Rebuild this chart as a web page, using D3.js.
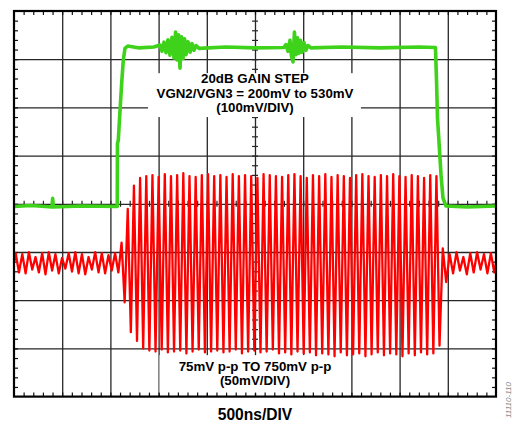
<!DOCTYPE html>
<html>
<head>
<meta charset="utf-8">
<script src="https://cdn.jsdelivr.net/npm/d3@7"></script>
<style>
  body { margin: 0; background: #fff; }
  svg { display: block; }
  text { font-family: "Liberation Sans", Arial, sans-serif; font-weight: bold; fill: #000; }
</style>
</head>
<body>
<div id="scope"></div>
<script>
// ---- data ----
// time axis in ns (500ns/DIV, 10 divisions), vertical in divisions (8)
const timeSpan = [0, 5000];
const divSpan = [-4, 4];

// green: VGN2/VGN3 gain control step, [ns, mV] (100mV/DIV)
const gainStep = [
  [0, 200], [180, 202], [394, 199], [401, 217], [409, 199], [700, 201], [1071, 200],
  [1073, 330], [1082, 338], [1100, 400], [1117, 456], [1134, 504], [1151, 528],
  [1180, 533], [1300, 529], [1450, 531],
  [1514, 535], [1535, 522], [1556, 541], [1577, 519], [1597, 546], [1618, 514],
  [1639, 551], [1660, 508], [1676, 562], [1691, 504], [1707, 556], [1722, 487],
  [1738, 552], [1753, 507], [1769, 548], [1784, 515], [1805, 542], [1826, 520],
  [1846, 538], [1867, 524], [1888, 534], [1919, 528],
  [2200, 531], [2500, 529], [2800, 530],
  [2821, 536], [2842, 522], [2863, 545], [2878, 512], [2894, 500], [2909, 562],
  [2925, 515], [2940, 550], [2956, 518], [2971, 545], [2987, 520], [3008, 540],
  [3028, 524], [3049, 534], [3080, 529],
  [3400, 531], [3800, 529], [4200, 531], [4372, 530], [4383, 462], [4393, 384],
  [4414, 317], [4430, 265], [4450, 218], [4481, 201], [4700, 199], [5000, 201]
];

// red: output signal, peak / trough of each cycle in mV (50mV/DIV)
const segmentBounds = [0, 1100, 4430, 5000]; // ns: before step, burst, after step
const preHi = [10, 9, 11, 6, 10, 11, 9, 5, 10, 11, 9, 6, 11, 10, 8, 10];
const preLo = [-10, -11, -7, -10, -12, -8, -11, -6, -9, -11, -12, -7, -10, -11, -8, -10];
const burstHi = [21, 56, 80, 88, 90, 91, 89, 92, 90, 91, 93, 90, 89, 91, 92, 90,
  91, 89, 92, 90, 91, 90, 88, 92, 91, 90, 89, 91, 92, 90, 88, 91,
  90, 92, 89, 91, 90, 88, 91, 92, 90, 89, 91, 90, 92, 90, 89, 91, 90, 88, 91, 90];
const burstLo = [-41, -72, -81, -89, -91, -92, -90, -93, -92, -91, -94, -92, -90, -93, -92, -91,
  -93, -92, -90, -94, -92, -91, -93, -92, -90, -94, -93, -95, -92, -94, -93, -96,
  -94, -95, -97, -93, -96, -95, -94, -97, -95, -93, -96, -94, -95, -97, -94, -96, -93, -95, -94, -86];
const postHi = [15, 9, 11, 6, 10, 11, 9, 10];
const postLo = [-20, -11, -8, -12, -10, -7, -11, -10];

// channel settings
const greenPerDiv = 100, greenAtCenter = 205.6;   // mV
const redPerDiv = 50, redAtCenter = 61.2;          // mV

const boxLines = ['20dB GAIN STEP', 'VGN2/VGN3 = 200mV to 530mV', '(100mV/DIV)'];
const burstLines = ['75mV p-p TO 750mV p-p', '(50mV/DIV)'];
const timeLabel = '500ns/DIV';
const figureId = '11110-110';

// ---- layout ----
const width = 513;
const height = 421;
const margin = { top: 11, right: 17, bottom: 24.4, left: 14 };
const plotW = width - margin.left - margin.right;
const plotH = height - margin.top - margin.bottom;

const svg = d3.select('#scope')
  .append('svg')
  .attr('width', width)
  .attr('height', height);

const g = svg.append('g')
  .attr('transform', `translate(${margin.left}, ${margin.top})`);

const x = d3.scaleLinear().domain(timeSpan).range([0, plotW]);
const yDiv = d3.scaleLinear().domain(divSpan).range([plotH, 0]);
const yGreen = d3.scaleLinear()
  .domain(divSpan.map(d => greenAtCenter + d * greenPerDiv))
  .range([plotH, 0]);
const yRed = d3.scaleLinear()
  .domain(divSpan.map(d => redAtCenter + d * redPerDiv))
  .range([plotH, 0]);

const majorTimes = d3.range(500, 5000, 500);
const majorDivs = d3.range(-3, 4, 1);
const minorTimes = d3.range(100, 5000, 100);
const minorDivs = d3.range(-3.8, 4, 0.2);

function styleAxis(sel, color, w) {
  sel.select('.domain').remove();
  sel.selectAll('.tick line').attr('stroke', color).attr('stroke-width', w);
}

// graticule
g.append('g')
  .attr('transform', `translate(0, ${plotH})`)
  .call(d3.axisBottom(x).tickValues(majorTimes).tickSize(-plotH).tickFormat(''))
  .call(s => styleAxis(s, '#262626', 1.3));

g.append('g')
  .call(d3.axisLeft(yDiv).tickValues(majorDivs).tickSize(-plotW).tickFormat(''))
  .call(s => styleAxis(s, '#262626', 1.3));

// small ticks on the centre cross
g.append('g')
  .attr('transform', `translate(0, ${yDiv(0) - 3})`)
  .call(d3.axisBottom(x).tickValues(minorTimes).tickSize(6).tickFormat(''))
  .call(s => styleAxis(s, '#262626', 1.2));

g.append('g')
  .attr('transform', `translate(${x(2500) - 3}, 0)`)
  .call(d3.axisRight(yDiv).tickValues(minorDivs).tickSize(6).tickFormat(''))
  .call(s => styleAxis(s, '#262626', 1.2));

// white boxes behind the notes
g.append('rect')
  .attr('x', x(1390)).attr('y', yDiv(2.71))
  .attr('width', x(3599) - x(1390)).attr('height', yDiv(1.80) - yDiv(2.71))
  .attr('fill', '#fff');

g.append('rect')
  .attr('x', x(1509)).attr('y', yDiv(-3.14))
  .attr('width', x(3490) - x(1509)).attr('height', yDiv(-3.93) - yDiv(-3.14))
  .attr('fill', '#fff');

// ticks on the frame, pointing in
g.append('g')
  .call(d3.axisTop(x).tickValues(minorTimes).tickSize(-4).tickFormat(''))
  .call(s => styleAxis(s, '#111', 1.2));
g.append('g')
  .attr('transform', `translate(0, ${plotH})`)
  .call(d3.axisBottom(x).tickValues(minorTimes).tickSize(-4).tickFormat(''))
  .call(s => styleAxis(s, '#111', 1.2));
g.append('g')
  .call(d3.axisLeft(yDiv).tickValues(minorDivs).tickSize(-4).tickFormat(''))
  .call(s => styleAxis(s, '#111', 1.2));
g.append('g')
  .attr('transform', `translate(${plotW}, 0)`)
  .call(d3.axisRight(yDiv).tickValues(minorDivs).tickSize(-4).tickFormat(''))
  .call(s => styleAxis(s, '#111', 1.2));

// red trace: one peak and one trough per cycle, cycles spread over each segment
const segments = [[preHi, preLo], [burstHi, burstLo], [postHi, postLo]];
const redPoints = [[segmentBounds[0], 0]];
segments.forEach(([hi, lo], k) => {
  const t0 = segmentBounds[k];
  const period = (segmentBounds[k + 1] - t0) / hi.length;
  hi.forEach((v, i) => {
    redPoints.push([t0 + (i + 0.25) * period, v]);
    redPoints.push([t0 + (i + 0.75) * period, lo[i]]);
  });
});
redPoints.push([segmentBounds[3], 0]);

const redLine = d3.line()
  .x(d => x(d[0]))
  .y(d => yRed(d[1]));

g.append('path')
  .datum(redPoints)
  .attr('d', redLine)
  .attr('fill', 'none')
  .attr('stroke', '#ff0000')
  .attr('stroke-width', 2.3)
  .attr('stroke-linejoin', 'round');

// green trace
const greenLine = d3.line()
  .x(d => x(d[0]))
  .y(d => yGreen(d[1]));

g.append('path')
  .datum(gainStep)
  .attr('d', greenLine)
  .attr('fill', 'none')
  .attr('stroke', '#3fd21a')
  .attr('stroke-width', 3.6)
  .attr('stroke-linejoin', 'round');

// frame
g.append('rect')
  .attr('width', plotW)
  .attr('height', plotH)
  .attr('fill', 'none')
  .attr('stroke', '#000')
  .attr('stroke-width', 2.2);

// notes
const noteBase = [2.50, 2.195, 1.905];
g.selectAll('.step-note')
  .data(boxLines)
  .enter()
  .append('text')
  .attr('class', 'step-note')
  .attr('x', x(2500))
  .attr('y', (d, i) => yDiv(noteBase[i]))
  .attr('text-anchor', 'middle')
  .style('font-size', '13.3px')
  .text(d => d);

const burstBase = [-3.46, -3.75];
g.selectAll('.burst-note')
  .data(burstLines)
  .enter()
  .append('text')
  .attr('class', 'burst-note')
  .attr('x', x(2500))
  .attr('y', (d, i) => yDiv(burstBase[i]))
  .attr('text-anchor', 'middle')
  .style('font-size', '13.3px')
  .text(d => d);

svg.append('text')
  .attr('x', margin.left + x(2500))
  .attr('y', 419.5)
  .attr('text-anchor', 'middle')
  .style('font-size', '15.6px')
  .text(timeLabel);

svg.append('text')
  .attr('transform', 'translate(511, 418) rotate(-90)')
  .style('font-size', '8px')
  .style('font-weight', 'normal')
  .style('font-style', 'italic')
  .style('fill', '#8a8a8a')
  .text(figureId);
</script>
</body>
</html>
